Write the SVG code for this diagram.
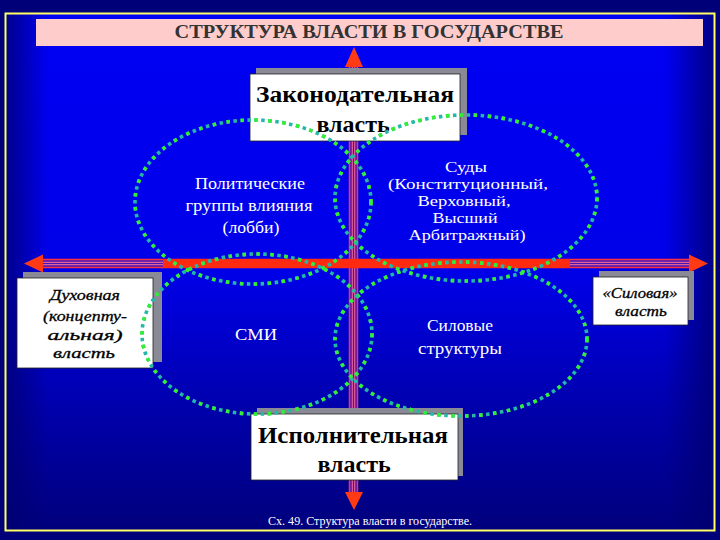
<svg xmlns="http://www.w3.org/2000/svg" width="720" height="540" viewBox="0 0 720 540">
<defs>
<linearGradient id="bgv" x1="0" y1="0" x2="0" y2="1">
<stop offset="0" stop-color="#0000f4"/>
<stop offset="0.5" stop-color="#0000e8"/>
<stop offset="0.78" stop-color="#0000a8"/>
<stop offset="1" stop-color="#00007c"/>
</linearGradient>
<linearGradient id="bgh" x1="0" y1="0" x2="1" y2="0">
<stop offset="0" stop-color="#000070" stop-opacity="0.8"/>
<stop offset="0.06" stop-color="#000070" stop-opacity="0"/>
<stop offset="0.93" stop-color="#000070" stop-opacity="0"/>
<stop offset="1" stop-color="#000070" stop-opacity="0.85"/>
</linearGradient>
<style>
.shadow{fill:#8a8a96}
.box{fill:#ffffff;stroke:#222;stroke-width:0.8}
.big{font-family:"Liberation Serif","Times New Roman",serif;font-size:24px;font-weight:bold;fill:#000;text-anchor:middle}
.it{font-family:"Liberation Serif","Times New Roman",serif;font-size:15px;font-style:italic;fill:#000;text-anchor:middle;stroke:#000;stroke-width:0.3}
.wt{font-family:"Liberation Serif","Times New Roman",serif;font-size:16px;fill:#fff;text-anchor:middle}
.ws{font-family:"Liberation Serif","Times New Roman",serif;font-size:15px;fill:#fff;text-anchor:middle}
.dotA{fill:none;stroke:#22b8a8;stroke-width:3.6;stroke-dasharray:3.5 3.5}
.dotB{fill:none;stroke:#33ee33;stroke-width:3.6;stroke-dasharray:3.5 10.5}
.shaft{fill:#4a14b4;stroke:#ff3040;stroke-width:1.5}
.inner{stroke:#e0609a;stroke-width:1.2;fill:none}
.head{fill:#ff3a14}
</style>
</defs>
<rect x="0" y="0" width="720" height="540" fill="#000078"/>
<rect x="5" y="13" width="710" height="518" fill="url(#bgv)"/>
<rect x="5" y="13" width="710" height="518" fill="url(#bgh)"/>
<rect x="5.5" y="13.5" width="709" height="517" fill="none" stroke="#ffff66" stroke-width="2"/>

<g id="title">
<rect x="36" y="19" width="667" height="27" fill="#ffcccc"/>
<text x="369" y="38" font-family="Liberation Serif, Times New Roman, serif" font-size="18" font-weight="bold" fill="#333" text-anchor="middle" textLength="389" lengthAdjust="spacingAndGlyphs">СТРУКТУРА ВЛАСТИ В ГОСУДАРСТВЕ</text>
</g>

<g id="connectors">
<rect class="shaft" x="349.5" y="64" width="8" height="430"/>
<path class="inner" d="M352.3,64 V494 M354.7,64 V494"/>
<polygon class="head" points="354,47 345,67 363,67"/>
<polygon class="head" points="354,510 345,492 363,492"/>
<rect class="shaft" x="40" y="259.5" width="652" height="8"/>
<path class="inner" d="M40,262.3 H692 M40,264.7 H692"/>
<rect x="163" y="259" width="407" height="9" fill="#ff2a10"/>
<polygon class="head" points="24,263.5 43,254.5 43,272.5"/>
<polygon class="head" points="708,263.5 689,254.5 689,272.5"/>
</g>

<g id="node-legislative">
<rect class="shadow" x="256" y="68" width="211" height="67"/>
<rect class="box" x="250" y="74" width="210" height="67"/>
<text class="big" x="355" y="102" textLength="198" lengthAdjust="spacingAndGlyphs">Законодательная</text>
<text class="big" x="353" y="132">власть</text>
</g>

<g id="node-executive">
<rect class="shadow" x="257" y="408" width="206" height="68"/>
<rect class="box" x="251" y="414" width="207" height="66"/>
<text class="big" x="353" y="443" textLength="190" lengthAdjust="spacingAndGlyphs">Исполнительная</text>
<text class="big" x="354" y="472">власть</text>
</g>

<g id="node-spiritual">
<rect class="shadow" x="23" y="272" width="139" height="90"/>
<rect class="box" x="17" y="278" width="136" height="90"/>
<text class="it" x="85" y="300" textLength="70" lengthAdjust="spacingAndGlyphs">Духовная</text>
<text class="it" x="85" y="321" textLength="84" lengthAdjust="spacingAndGlyphs">(концепту-</text>
<text class="it" x="85" y="340" textLength="75" lengthAdjust="spacingAndGlyphs">альная)</text>
<text class="it" x="84" y="358" textLength="62" lengthAdjust="spacingAndGlyphs">власть</text>
</g>

<g id="node-force">
<rect class="shadow" x="599" y="271" width="95" height="49"/>
<rect class="box" x="593" y="277" width="95" height="48"/>
<text class="it" x="640" y="298" textLength="75" lengthAdjust="spacingAndGlyphs">«Силовая»</text>
<text class="it" x="641" y="316" textLength="52" lengthAdjust="spacingAndGlyphs">власть</text>
</g>

<g id="node-lobby">
<ellipse class="dotA" cx="253" cy="202" rx="118" ry="82"/>
<ellipse class="dotB" cx="253" cy="202" rx="118" ry="82"/>
<text class="wt" x="250" y="189" textLength="110" lengthAdjust="spacingAndGlyphs">Политические</text>
<text class="wt" x="249" y="211" textLength="127" lengthAdjust="spacingAndGlyphs">группы влияния</text>
<text class="wt" x="251" y="233" textLength="57" lengthAdjust="spacingAndGlyphs">(лобби)</text>
</g>

<g id="node-courts">
<ellipse class="dotA" cx="466" cy="198" rx="131" ry="83"/>
<ellipse class="dotB" cx="466" cy="198" rx="131" ry="83"/>
<text class="ws" x="466" y="172" textLength="42" lengthAdjust="spacingAndGlyphs">Суды</text>
<text class="ws" x="468" y="189" textLength="160" lengthAdjust="spacingAndGlyphs">(Конституционный,</text>
<text class="ws" x="464" y="206" textLength="93" lengthAdjust="spacingAndGlyphs">Верховный,</text>
<text class="ws" x="465" y="223" textLength="65" lengthAdjust="spacingAndGlyphs">Высший</text>
<text class="ws" x="467" y="240" textLength="117" lengthAdjust="spacingAndGlyphs">Арбитражный)</text>
</g>

<g id="node-media">
<ellipse class="dotA" cx="257" cy="334" rx="115" ry="80"/>
<ellipse class="dotB" cx="257" cy="334" rx="115" ry="80"/>
<text class="wt" x="256" y="340" textLength="42" lengthAdjust="spacingAndGlyphs">СМИ</text>
</g>

<g id="node-security">
<ellipse class="dotA" cx="461" cy="339" rx="126" ry="77"/>
<ellipse class="dotB" cx="461" cy="339" rx="126" ry="77"/>
<text class="wt" x="460" y="331" textLength="66" lengthAdjust="spacingAndGlyphs">Силовые</text>
<text class="wt" x="460" y="354" textLength="84" lengthAdjust="spacingAndGlyphs">структуры</text>
</g>

<text x="370" y="525" font-family="Liberation Serif, Times New Roman, serif" font-size="12" fill="#fff" text-anchor="middle" textLength="204" lengthAdjust="spacingAndGlyphs">Сх. 49. Структура власти в государстве.</text>
</svg>
